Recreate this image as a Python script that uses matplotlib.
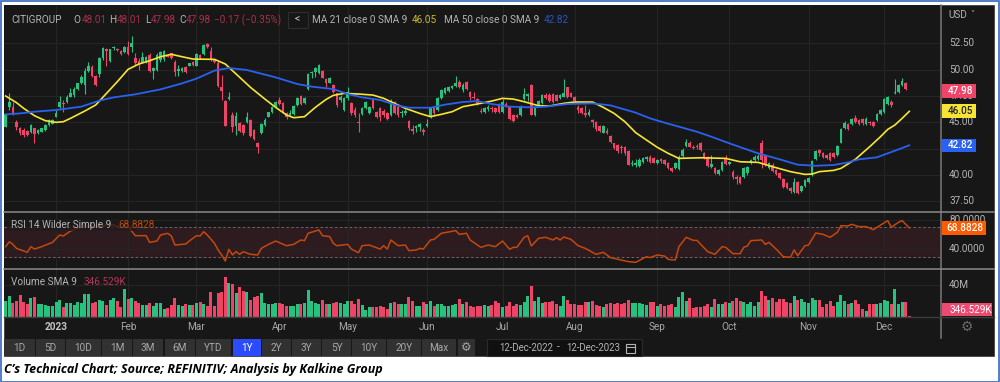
import matplotlib
matplotlib.use('Agg')
import matplotlib.pyplot as plt
from matplotlib.patches import Rectangle

opens = [44.52,46.49,46.49,45.06,44.43,44.27,44.21,44.11,44.43,43.95,
         44.11,44.27,44.75,44.84,45.54,46.42,46.80,46.96,47.44,47.59,
         48.13,48.77,48.54,49.91,50.28,49.40,49.59,51.08,51.93,50.85,
         52.03,51.96,51.77,51.71,52.18,52.12,51.08,50.85,50.66,50.76,
         51.39,49.91,49.97,50.92,50.98,51.39,51.55,50.76,49.87,49.91,
         50.28,50.38,50.76,50.38,51.39,51.49,52.41,51.80,50.98,50.60,
         48.39,47.02,47.21,45.70,44.65,44.97,44.75,45.06,45.22,44.27,
         43.07,43.95,44.75,45.54,46.01,46.55,47.12,46.80,45.85,45.70,
         45.79,46.65,47.50,46.80,48.13,49.65,49.81,49.65,49.91,49.08,
         48.77,48.54,47.75,47.12,46.17,47.28,46.87,46.17,45.06,45.79,
         46.33,45.85,47.12,46.01,46.33,46.11,45.92,45.70,46.96,46.49,
         45.85,45.92,45.16,44.33,44.43,44.59,44.27,44.65,45.47,46.49,
         46.17,47.28,47.75,48.01,48.23,48.45,48.86,48.07,48.86,47.91,
         47.44,47.18,46.11,46.01,46.23,46.39,46.33,46.74,46.01,46.74,
         46.49,45.70,45.70,45.70,47.18,47.53,48.54,45.70,46.65,46.80,
         47.59,47.59,47.66,47.59,47.28,47.44,48.32,47.75,47.37,46.49,
         46.33,45.85,45.70,45.22,45.06,44.65,44.02,44.18,43.70,43.01,
         42.85,42.69,42.69,42.31,41.04,40.95,40.85,41.26,41.49,41.74,
         41.58,41.17,41.49,41.42,41.17,40.63,40.63,40.54,41.80,42.78,
         43.01,42.69,42.78,43.01,42.06,41.74,40.79,40.63,40.09,40.47,
         41.49,41.04,40.32,39.84,39.84,39.84,40.16,41.10,41.42,41.49,
         43.01,41.90,40.63,40.95,40.47,40.16,39.59,39.20,38.73,38.42,
         39.36,38.51,38.95,39.36,40.00,41.49,42.37,42.06,41.90,42.12,
         42.12,41.90,43.07,44.43,44.81,44.84,45.38,45.22,45.28,44.84,
         45.06,45.00,45.22,45.76,46.01,46.74,46.96,47.75,47.85,48.54,
         48.77,48.01]
closes = [45.79,46.96,45.85,44.59,44.02,43.80,43.80,44.78,43.86,44.27,
          44.43,44.75,45.22,45.22,45.85,46.96,46.74,47.37,47.82,48.13,
          48.70,49.27,49.91,50.35,49.40,48.54,51.08,52.03,51.80,51.93,
          52.12,51.87,51.46,52.18,51.49,52.56,50.60,50.44,51.17,51.17,
          49.91,50.13,51.39,51.71,51.80,51.23,51.08,49.81,50.03,50.13,
          49.81,50.60,50.44,51.49,51.08,52.34,52.12,50.92,50.76,48.45,
          48.01,44.68,47.37,44.59,45.60,44.21,44.02,45.54,43.70,43.39,
          42.69,44.84,45.22,45.95,46.49,46.96,46.74,46.01,45.47,45.92,
          46.55,47.28,46.74,47.28,49.59,49.81,50.13,50.44,49.18,48.70,
          49.18,47.91,46.65,47.44,47.28,47.91,45.85,45.70,44.90,46.33,
          46.96,46.49,46.33,45.54,45.47,45.70,45.28,47.06,45.85,45.70,
          46.01,46.08,44.43,44.21,44.65,44.81,44.11,44.84,46.33,45.85,
          47.28,48.07,48.23,48.32,48.45,48.70,48.32,48.54,48.13,47.44,
          47.28,46.80,45.98,46.33,46.42,46.23,46.01,46.01,46.96,46.55,
          45.28,45.16,45.54,46.55,47.69,47.69,45.70,46.33,47.02,47.59,
          47.28,47.02,46.96,47.06,47.59,47.82,47.44,47.44,47.02,46.17,
          45.92,45.70,46.01,45.06,44.33,44.21,44.65,44.02,43.16,42.53,
          42.31,42.53,42.06,40.98,41.17,41.17,41.42,41.58,41.68,41.26,
          41.17,41.42,41.30,41.04,40.70,40.41,41.10,41.74,42.37,43.16,
          42.69,42.59,42.63,42.37,41.68,40.88,41.01,40.22,40.47,41.26,
          41.04,41.23,39.78,39.59,39.20,40.63,40.79,41.42,41.74,41.80,
          41.42,40.95,41.17,40.41,40.06,39.75,38.83,38.73,38.51,39.36,
          38.26,38.95,39.52,39.68,41.36,42.31,42.06,41.74,41.64,41.42,
          41.68,42.75,44.37,44.90,44.37,45.32,45.06,44.84,44.90,45.32,
          44.90,44.65,45.76,46.17,47.21,47.37,46.65,47.91,48.54,48.92,
          48.13,47.98]
highs = [45.79,47.82,46.96,45.22,44.52,44.43,44.27,44.84,44.43,44.33,
         44.50,44.85,45.30,45.30,46.17,47.50,47.12,47.59,48.23,48.32,
         48.77,49.49,50.13,50.76,50.44,49.49,51.17,52.18,52.03,51.93,
         52.25,52.10,51.87,52.25,52.75,53.23,51.55,51.08,51.71,51.30,
         51.55,50.28,51.55,51.80,51.87,51.49,51.61,50.92,50.44,50.28,
         50.35,50.66,50.85,51.55,51.45,52.44,52.50,52.18,51.04,50.92,
         49.49,47.12,47.91,46.01,46.01,45.06,44.84,46.01,45.28,44.33,
         43.16,44.90,45.38,46.01,46.55,47.02,47.37,46.96,46.01,46.17,
         46.65,47.44,47.59,47.37,49.65,49.91,50.28,50.54,49.97,49.18,
         49.34,48.64,47.82,47.59,47.37,48.32,46.96,46.42,45.85,46.42,
         47.06,46.55,47.21,46.11,46.42,46.23,46.01,47.18,47.06,46.65,
         46.17,46.23,45.22,44.75,44.75,44.90,44.43,45.28,46.42,46.55,
         47.44,48.13,48.32,48.45,48.54,49.40,49.02,48.70,48.92,48.01,
         47.91,47.28,46.33,46.49,46.65,46.55,46.42,46.87,47.18,46.96,
         46.55,45.79,45.79,46.65,48.23,47.82,48.61,46.49,47.12,47.69,
         47.75,47.75,47.75,47.69,47.69,49.11,48.39,47.85,47.50,46.65,
         46.42,46.65,46.23,45.28,45.16,44.75,44.75,44.43,43.80,43.07,
         42.91,42.85,42.78,42.37,41.42,41.49,41.58,41.74,41.80,41.87,
         41.68,41.52,41.58,41.52,41.26,40.73,41.20,41.87,42.53,43.39,
         43.26,42.85,42.94,43.16,42.21,41.83,41.90,40.79,40.57,41.36,
         41.90,41.33,40.47,40.00,39.94,40.73,40.88,41.52,41.90,41.99,
         43.32,41.99,41.26,41.10,40.57,40.25,39.68,39.30,38.83,39.68,
         39.46,39.05,39.62,39.84,41.42,42.40,42.47,42.15,41.99,42.21,
         42.21,42.85,44.43,45.16,44.97,45.41,45.70,45.32,45.38,45.47,
         45.16,45.09,45.85,46.27,47.31,47.47,47.12,49.11,48.64,49.18,
         48.86,48.01]
lows = [44.52,46.17,45.70,44.27,43.80,43.58,43.70,44.02,43.01,43.86,
        44.05,44.20,44.70,44.80,45.50,46.33,46.00,46.80,47.37,47.44,
        48.07,48.64,47.69,49.81,49.34,48.45,49.34,50.92,50.35,50.76,
        51.87,51.80,51.39,51.61,51.39,51.71,50.44,49.97,50.60,50.66,
        49.81,49.15,49.91,50.76,50.85,51.17,50.98,49.40,49.40,49.78,
        49.65,50.32,50.35,50.32,51.00,51.39,52.03,50.85,50.66,48.39,
        47.12,44.65,47.12,44.11,43.80,44.11,43.80,44.90,43.64,43.32,
        42.06,43.89,44.65,45.47,45.92,46.42,46.65,45.85,45.35,45.60,
        45.70,46.55,46.65,46.74,48.07,49.18,49.34,49.59,49.18,48.32,
        48.70,47.82,46.42,46.96,46.08,47.12,45.70,45.54,44.11,45.70,
        46.23,45.76,46.23,45.41,45.16,45.54,45.22,45.60,45.76,45.54,
        45.54,45.70,44.27,43.89,44.11,44.21,43.80,44.52,45.38,45.70,
        46.11,47.18,47.69,47.91,48.13,48.32,48.23,47.91,48.07,47.12,
        47.18,46.65,45.85,45.92,46.11,46.01,45.85,45.92,45.92,46.42,
        45.22,45.06,45.41,45.60,47.12,47.06,45.66,45.60,46.55,46.74,
        47.18,46.96,46.87,46.99,47.18,47.37,47.28,47.37,46.93,45.85,
        45.79,45.54,45.60,44.59,44.21,44.11,43.95,43.89,43.07,42.44,
        42.12,42.06,41.90,40.95,40.85,40.79,40.73,41.10,41.36,41.17,
        41.10,41.04,41.17,40.95,40.60,40.28,40.54,40.47,41.74,42.69,
        42.63,42.44,42.50,42.31,41.55,40.79,40.70,40.09,39.97,40.38,
        40.95,40.95,39.59,39.14,39.14,39.75,40.03,41.01,41.30,41.42,
        40.63,40.85,40.54,40.32,39.97,39.65,38.73,38.64,38.32,38.32,
        38.19,38.42,38.89,39.27,39.91,41.42,41.80,41.64,41.55,41.30,
        41.58,41.80,43.01,44.33,44.27,44.75,44.90,44.71,44.78,44.75,
        44.78,44.52,45.16,45.66,45.92,46.68,46.42,47.69,47.78,48.45,
        48.07,47.98]

volumes = [20.0,26.4,16.6,20.0,27.2,18.3,15.3,23.4,25.1,15.7,
           15.3,14.9,13.6,13.6,18.7,21.3,12.3,17.4,17.4,14.9,
           17.9,17.4,28.5,28.5,17.4,18.7,20.4,19.6,14.0,20.8,
           23.0,20.0,12.3,34.9,22.6,23.0,20.0,16.6,14.9,14.5,
           17.0,13.2,17.0,17.0,9.8,10.2,14.0,23.0,14.9,13.6,
           15.7,14.0,14.9,17.0,18.7,16.2,13.6,31.5,13.2,29.8,
           30.6,50.2,42.1,41.3,29.4,37.4,32.3,30.6,20.8,24.7,
           26.4,29.8,16.6,16.2,15.7,16.6,17.0,15.7,12.8,12.8,
           13.2,15.3,15.3,16.6,33.2,19.6,17.4,16.2,21.3,16.2,
           16.2,16.6,17.9,17.0,15.7,19.6,20.0,15.7,21.7,14.0,
           8.9,11.5,12.3,12.3,13.2,12.3,9.8,17.0,18.3,16.2,
           15.3,15.3,24.3,19.6,12.8,13.2,18.3,15.7,20.0,13.2,
           15.3,15.7,12.8,12.8,14.5,15.3,22.6,16.2,18.3,13.2,
           11.9,12.8,13.6,14.5,13.2,14.0,19.1,17.0,11.9,12.8,
           17.9,13.6,15.3,14.5,18.7,26.4,38.7,19.1,25.1,17.0,
           18.7,18.7,19.6,15.3,13.6,25.5,20.8,15.3,16.2,14.0,
           14.0,18.7,17.9,19.1,14.5,13.6,12.3,15.7,17.4,15.7,
           17.4,15.7,16.6,20.8,16.6,16.6,17.4,15.3,14.5,18.3,
           18.3,13.6,16.2,13.6,14.0,15.7,11.9,25.1,30.6,20.0,
           23.4,11.1,11.9,12.3,13.6,16.2,11.9,22.6,16.2,15.7,
           17.9,17.0,20.0,23.8,19.1,18.3,15.3,18.7,13.6,18.7,
           32.3,25.5,20.8,23.8,17.9,21.7,21.7,17.9,16.6,25.5,
           20.8,22.6,18.3,17.4,23.8,21.3,21.3,11.9,15.3,19.6,
           12.8,18.7,26.8,19.6,15.3,16.6,20.4,15.7,9.8,6.8,
           15.3,15.3,15.3,17.4,20.4,20.0,15.3,34.5,15.7,18.3,
           18.7,0.35]

ma21_idx = [0,3,5,8,11,14,16,18,22,25,28,31,34,37,40,43,46,49,52,58,61,64,68,72,75,78,80,83,86,89,
            91,94,98,102,105,108,111,115,118,121,124,127,131,135,138,141,144,148,151,155,158,163,166,169,172,175,178,181,
            184,187,193,200,204,209,213,218,222,224,226,230,232,236,240,243,245,247,249,251]
ma21 = [47.50,46.87,46.33,45.63,45.16,45.00,45.06,45.38,46.08,46.65,47.75,48.86,50.03,50.54,50.85,51.23,51.46,51.23,51.01,50.98,50.54,49.59,48.32,47.21,46.42,45.70,45.44,45.54,46.42,47.18,
        47.56,47.75,47.69,47.59,47.28,46.80,46.33,45.85,45.54,45.76,46.01,46.49,46.74,47.02,47.28,47.21,46.96,46.58,46.55,46.80,46.93,46.93,46.42,45.85,45.06,44.02,43.32,42.63,
        42.06,41.58,41.64,41.58,41.26,41.20,40.79,40.32,40.06,40.09,40.32,40.44,40.63,41.49,42.69,43.64,44.33,44.75,45.38,46.05]
ma50_idx = [0,4,8,14,21,26,30,36,43,49,53,58,62,67,75,81,85,91,95,99,104,109,112,118,122,127,131,135,140,146,150,156,163,168,175,179,183,187,192,196,201,205,209,215,220,225,230,234,237,242,246,251]
ma50 = [45.76,45.85,46.01,46.17,46.49,47.06,47.37,47.66,48.13,48.70,49.15,49.91,50.16,49.97,49.27,48.64,48.39,48.16,47.69,47.37,47.12,46.58,46.39,46.39,46.68,46.93,47.02,46.74,46.49,46.42,46.49,46.74,46.80,46.61,45.92,45.38,44.97,44.59,44.11,43.64,43.01,42.53,42.06,41.49,40.98,40.88,40.95,41.20,41.49,41.68,42.18,42.82]

rsi_idx = [0,1,2,3,5,6,7,8,10,13,15,16,18,20,22,24,26,28,30,32,34,36,39,40,42,43,45,46,47,50,51,53,54,55,56,58,59,60,61,62,63,64,65,66,68,70,71,73,75,78,80,82,83,84,87,88,
           90,91,92,95,96,98,99,101,104,105,106,107,109,111,112,114,115,116,118,119,121,125,126,128,129,132,134,136,138,140,141,142,144,145,146,148,150,152,153,154,155,157,159,161,164,166,168,173,175,178,179,181,183,184,186,
           187,189,191,192,195,197,199,200,202,204,205,206,207,210,211,212,214,216,218,219,220,222,223,225,227,229,231,232,234,235,237,239,241,245,246,248,249,251]
rsi = [43.6,50.3,46.7,41.3,37.8,36.0,43.6,40.4,43.6,49.4,59.3,58.0,64.7,68.3,71.9,69.2,70.6,72.8,72.8,69.2,70.6,58.4,58.4,49.4,51.2,59.3,61.6,58.0,45.8,47.2,51.2,58.4,58.0,63.8,59.3,48.1,39.1,32.4,24.3,40.0,32.4,36.9,33.3,36.9,33.3,32.4,41.3,46.7,51.2,44.9,46.7,52.6,51.7,61.6,66.1,58.4,
       57.1,48.1,44.9,46.7,40.4,35.5,44.9,45.8,40.4,44.9,40.4,52.6,44.9,45.8,38.2,39.1,41.3,40.4,52.6,53.5,61.6,65.2,60.2,61.6,52.6,42.7,45.8,43.6,51.2,40.0,42.7,42.7,56.2,58.4,44.5,54.8,56.2,52.6,55.7,52.6,56.6,53.5,44.9,41.3,33.3,36.0,28.8,23.4,22.5,30.1,28.8,32.4,31.0,26.5,25.6,
       43.6,56.2,52.1,52.1,36.9,33.3,43.6,42.7,34.2,34.2,42.7,44.5,51.7,52.6,46.7,49.4,40.4,30.1,29.2,39.1,31.5,44.9,45.8,62.0,60.2,56.2,62.9,71.9,71.5,73.7,70.6,70.6,66.5,78.7,69.7,76.4,78.7,68.8828]

month_idx = [14,34,53,76,95,117,138,158,181,201,223,244]
month_labels = ['2023','Feb','Mar','Apr','May','Jun','Jul','Aug','Sep','Oct','Nov','Dec']
price_ticks = [37.5,40,42.5,45,47.5,50,52.5]
price_labels = [37.5,40,45,47.5,50,52.5]  # 42.50 sits fully under the blue tag
rsi_ticks = [40,80]
vol_ticks = [40]

W, H = 1000, 382
BG = '#171717'
GRID = '#252525'
UP = '#27c27f'
DOWN = '#ef4468'
TXT = '#b4b4b4'
YEL = '#f7e533'
BLUE = '#2962f0'
RSI_C = '#c4480c'

plt.rcParams['font.family'] = ['Roboto', 'DejaVu Sans']

def px_axes(fig, x0, y0, x1, y1, **kw):
    return fig.add_axes([x0/W, 1-y1/H, (x1-x0)/W, (y1-y0)/H], **kw)

fig = plt.figure(figsize=(W/100, H/100), dpi=100, facecolor='white')

back = px_axes(fig, 0, 0, W, H, zorder=0)
back.set_xlim(0, W); back.set_ylim(H, 0); back.axis('off')
back.add_patch(Rectangle((4, 5), 990, 351, fc=BG, ec='#333333', lw=0.5))

xlim = (-0.47, 259.8)
ax_price = px_axes(fig, 4, 5, 941, 212, zorder=1, facecolor=BG)
ax_rsi = px_axes(fig, 4, 212, 941, 269, zorder=1, facecolor=BG)
ax_vol = px_axes(fig, 4, 269, 941, 316.5, zorder=1, facecolor=BG)
for a in (ax_price, ax_rsi, ax_vol):
    a.set_xlim(*xlim)
    a.set_xticks(month_idx)
    a.tick_params(length=0, labelbottom=False, labelleft=False)
    a.grid(True, color=GRID, lw=0.8)
    a.set_axisbelow(True)
    for s in a.spines.values():
        s.set_visible(False)

ax_price.set_ylim(36.49, 56.14)
ax_price.set_yticks(price_ticks)
for i in range(len(opens)):
    c = UP if closes[i] >= opens[i] else DOWN
    ax_price.vlines(i, lows[i], highs[i], color=c, lw=0.8)
    ax_price.bar(i, abs(closes[i]-opens[i]), 0.7, bottom=min(opens[i], closes[i]), color=c)
ax_price.plot(ma21_idx, ma21, color=YEL, lw=1.2)
ax_price.plot(ma50_idx, ma50, color=BLUE, lw=1.3)

ax_rsi.set_ylim(13.5, 90.3)
ax_rsi.set_yticks(rsi_ticks)
ax_rsi.axhspan(30, 70, color='#2e1b20', zorder=0.5)
ax_rsi.axhline(70, color='#6a6a6a', lw=0.7, ls=(0, (2.5, 2.5)))
ax_rsi.axhline(30, color='#6a6a6a', lw=0.7, ls=(0, (2.5, 2.5)))
ax_rsi.plot(rsi_idx, rsi, color=RSI_C, lw=1.1)

ax_vol.set_ylim(0, 60.4)
ax_vol.set_yticks(vol_ticks)
vol_colors = [UP if closes[i] >= opens[i] else DOWN for i in range(len(volumes))]
ax_vol.bar(range(len(volumes)), volumes, 0.82, color=vol_colors)

# everything round the panels goes on a pixel overlay
top = px_axes(fig, 0, 0, W, H, zorder=2)
top.set_xlim(0, W); top.set_ylim(H, 0); top.axis('off')
top.patch.set_alpha(0)

def label(x, y, s, color=TXT, size=7.2, ha='left', **kw):
    top.text(x, y, s, color=color, fontsize=size, ha=ha, va='center', **kw)

def value_y(ax, v):
    return H - ax.transData.transform((0, v))[1]

def badge(y, x1, s, fc, tc='white'):
    top.add_patch(Rectangle((941.5, y-6.8), x1-941.5, 13.6, fc=fc, ec='none', zorder=4))
    top.text(x1-3 if x1 < 980 else 946, y, s, color=tc, fontsize=7.2, ha='right' if x1 < 980 else 'left',
             va='center', zorder=5, fontweight='medium')

# separators
top.plot([941, 941], [5, 338], color='#7a7a7a', lw=1.1)
top.plot([4, 994], [212, 212], color='#8a8a8a', lw=1.1)
top.plot([4, 994], [269, 269], color='#8a8a8a', lw=1.1)
top.plot([4, 994], [316.7, 316.7], color='#3c3c3c', lw=1.0)

# header legend
label(11, 20, 'CITIGROUP')
for x, s in [(73, 'O'), (109, 'H'), (145, 'L'), (179, 'C')]:
    label(x, 20, s)
for x, s in [(82, '48.01'), (117, '48.01'), (151, '47.98'), (186, '47.98'), (214, '\u22120.17 (\u22120.35%)')]:
    label(x, 20, s, color='#a8304a')
top.add_patch(Rectangle((287.5, 11.5), 20, 16, fc=BG, ec='#2e2e2e', lw=0.8))
label(297.5, 19.5, '<', size=7.5, ha='center', color='#cccccc')
label(312, 20, 'MA 21 close 0 SMA 9')
label(412, 20, '46.05', color='#c9bb2a')
label(444, 20, 'MA 50 close 0 SMA 9')
label(544, 20, '42.82', color='#2a52c4')
label(948, 14.5, 'USD', color='#b4b4b4')
label(972, 15, '\u02c5', size=6, ha='center', family=['DejaVu Sans'])

top.add_patch(Rectangle((7, 219), 130, 12, fc='#1f1a1c', ec='none', alpha=0.75))
label(11, 225, 'RSI 14 Wilder Simple 9')
label(118, 225, '68.8828', color='#b84a10')
label(11, 282, 'Volume SMA 9')
label(83, 282, '346.529K', color='#b5355a')

# axis labels
for v in price_labels:
    label(949, value_y(ax_price, v), '%.2f' % v)
for v in rsi_ticks:
    label(949, value_y(ax_rsi, v), '%.4f' % v)
for v in vol_ticks:
    label(949, value_y(ax_vol, v), '%dM' % v)

badge(value_y(ax_price, closes[-1]), 976, '%.2f' % closes[-1], DOWN)
badge(value_y(ax_price, ma21[-1]), 976, '%.2f' % ma21[-1], YEL, '#222222')
badge(value_y(ax_price, ma50[-1]), 976, '%.2f' % ma50[-1], BLUE)
badge(value_y(ax_rsi, rsi[-1]), 986, '%.4f' % rsi[-1], '#ff5a00')
top.add_patch(Rectangle((941.5, 303), 50, 13.4, fc='#ec4a70', ec='none', zorder=4))
top.text(949, 310, '346.529K', color='white', fontsize=7.2, va='center', zorder=5)

for i, s in zip(month_idx, month_labels):
    px = ax_price.transData.transform((i, 0))[0]
    label(px, 327.5, s, ha='center', color='#c4c4c4' if s == '2023' else '#a8a8a8',
          fontweight='bold' if s == '2023' else 'normal')
label(967, 327, '\u2699', size=10, ha='center', color='#6a6a6a', family=['DejaVu Sans'])

# range buttons
buttons = [('1D', 4, 35), ('5D', 36, 65), ('10D', 66, 101), ('1M', 102, 132), ('3M', 133, 163), ('6M', 165, 195),
           ('YTD', 196, 231), ('1Y', 233, 261), ('2Y', 262, 291), ('3Y', 292, 321), ('5Y', 322, 351),
           ('10Y', 352, 386), ('20Y', 387, 421), ('Max', 422, 456)]
for s, x0, x1 in buttons:
    active = s == '1Y'
    top.add_patch(Rectangle((x0, 339), x1-x0, 17, fc='#2b4bff' if active else '#313131', ec='none'))
    label((x0+x1)/2, 348, s, ha='center', color='white' if active else '#a8a8a8')
top.add_patch(Rectangle((458, 339), 17, 17, fc='#313131', ec='none'))
label(466.5, 347.5, '\u2699', size=8.5, ha='center', color='#a8a8a8', family=['DejaVu Sans'])
top.add_patch(Rectangle((487, 339), 155, 17, fc='#101010', ec='#2a2a2a', lw=0.8))
label(499, 348, '12-Dec-2022', color='#b4b4b4', size=6.9)
label(558.5, 347, '-', ha='center', color='#b4b4b4')
label(566, 348, '12-Dec-2023', color='#b4b4b4', size=6.9)
top.add_patch(Rectangle((625.5, 344), 9, 8.5, fc='none', ec='#b4b4b4', lw=0.8))
top.plot([625.5, 634.5], [346.5, 346.5], color='#b4b4b4', lw=0.8)

# caption
top.text(4, 369, 'C\u2019s Technical Chart; Source; REFINITIV; Analysis by Kalkine Group', color='black',
         fontsize=9.0, fontweight='bold', fontstyle='italic', family=['Open Sans', 'DejaVu Sans'], va='center')

# outer frame
fblue = '#4472c4'
top.add_patch(Rectangle((0.5, 0.5), 998.5, 381, fc='none', ec=fblue, lw=1.3, clip_on=False))

fig.savefig('out.png', dpi=100)
